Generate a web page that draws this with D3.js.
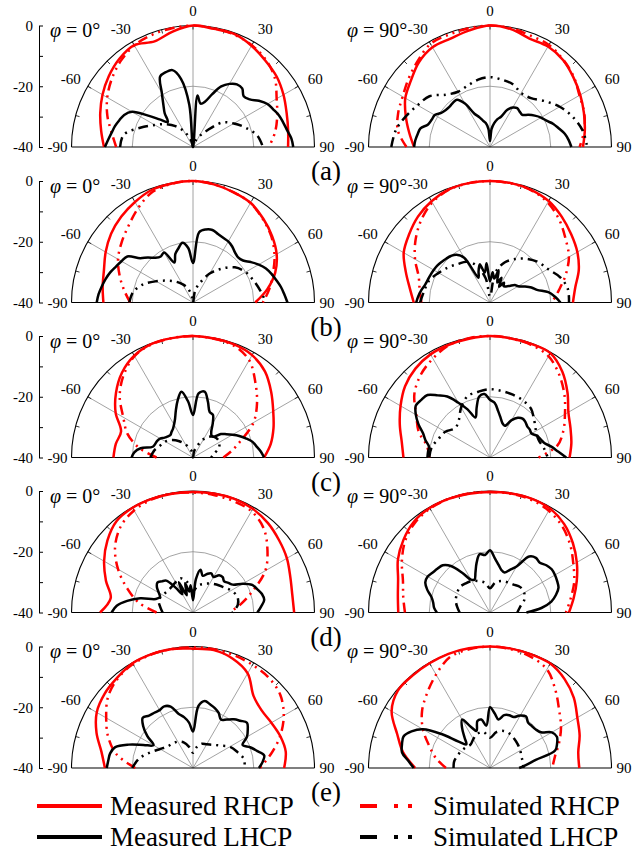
<!DOCTYPE html>
<html>
<head>
<meta charset="utf-8">
<script src="https://cdn.jsdelivr.net/npm/d3@7"></script>
<style>
  body { margin: 0; background: #fff; }
  svg text { font-family: "Liberation Serif", "Times New Roman", serif; fill: #000; }
</style>
</head>
<body>
<svg id="chart" width="643" height="852"></svg>
<script>
// sample angles (deg): smooth curves every 10, measured LHCP every 5
const ang10 = d3.range(-90, 91, 10);
const ang5 = d3.range(-90, 91, 5);

// (a)
const mR_a0 = [-10.7, -9.3, -7.5, -5.6, -3.8, -2.2, -1.3, -3.0, -1.4, 0, -0.5, -0.4, -1.5, -2.9, -4.0, -5.6, -7.2, -8.2, -8.7];
const sR_a0 = [-14.7, -12.8, -10.0, -7.4, -5.1, -3.0, -1.4, -0.7, -0.3, 0, -0.3, -0.6, -1.3, -2.6, -4.8, -8.2, -10.5, -12.6, -15];
const mL_a0 = [-11, -12, -12.8, -13.4, -14.2, -15, -16.8, -22, -26, -28.3, -25.5, -23, -19.5, -14.4, -13.8, -13.8, -17.2, -26, -40,
  -23, -25.5, -24.5, -21.5, -18, -16, -14.8, -14.8, -16.4, -15.6, -13.5, -11.7, -10.8, -9.8, -9.2, -8.5, -7.5, -7];
const sL_a0 = [-16, -16.8, -21.5, -25.5, -28.3, -31, -34, -37, -39, -40, -39, -38, -36, -33, -27.5, -24.5, -21.5, -18.5, -17];

const mR_a90 = [-15, -13, -10.5, -7.8, -6, -3.6, -2.1, -2, -1, 0, -0.6, -2.0, -1.8, -2.6, -4.2, -5.7, -7.1, -8.3, -9.4];
const sR_a90 = [-12.5, -9.2, -7.8, -6.8, -5, -3, -0.8, -0.6, -0.3, 0, -0.3, -1, -1.2, -2.5, -4, -6, -7, -8.5, -10.5];
const mL_a90 = [-15, -15.3, -15.8, -16.3, -18.3, -18.8, -19, -20.4, -21, -21.2, -21, -21, -23.5, -27.9, -29.5, -31, -32, -34, -38,
  -34, -32, -30.5, -29.4, -26.5, -25, -24.4, -24.8, -25, -23.5, -22, -20.6, -19.5, -17.8, -16.5, -15, -14, -13.2];
const sL_a90 = [-7.5, -8.5, -10.5, -12.5, -14, -17.5, -19, -18.5, -17.5, -17, -17.5, -18, -19.5, -19, -16.5, -13.5, -11, -9, -8];

// (b)
const mR_b0 = [-10.5, -9.8, -8.8, -6.8, -4.8, -3.2, -1.8, -0.5, -0.2, 0, -0.5, -1.3, -2.1, -4, -6, -8.2, -11.2, -15.2, -19.5];
const sR_b0 = [-19.3, -17, -14.3, -11.5, -9.3, -7, -4, -1.2, -0.3, 0, -0.5, -1.3, -2.2, -4.2, -6.3, -9, -12, -14.5, -17];
const mL_b0 = [-8.3, -8.8, -9.5, -10.2, -11, -12, -12.8, -13.6, -17.3, -19, -20.8, -21.5, -21, -25.5, -23, -21.5, -20, -22, -27,
  -16.8, -15.6, -15.3, -16, -16.5, -16.8, -17.5, -18.5, -19, -18.5, -16.8, -15, -13.5, -12.5, -11.6, -10.6, -9.8, -8.9];
const sL_b0 = [-19, -20, -22.5, -26, -28.8, -31, -33, -35, -38, -40, -36, -33, -29, -25.5, -22, -20, -18.8, -17.5, -16];

const mR_b90 = [-14.9, -13.2, -10.5, -7.2, -5.2, -3.1, -1.5, -0.4, -0.1, 0, -0.1, -0.5, -1.4, -3.2, -5.1, -6.8, -8.9, -11.5, -12.7];
const sR_b90 = [-17.4, -16.5, -15, -11.5, -8, -4.7, -2, -0.5, -0.1, 0, -0.2, -0.6, -2, -4.5, -7.5, -10, -13.5, -17, -19.6];
const mL_b90 = [-15.7, -16.3, -17, -17.8, -18.2, -18.4, -18.6, -18.8, -19.2, -19.6, -20, -20.8, -23, -31, -29, -27, -30, -27, -33,
  -30, -32, -29, -33, -31, -34, -32, -33, -32.5, -31.5, -30, -29.3, -27.5, -25.5, -24, -20.5, -18.5, -16.8];
const sL_b90 = [-17, -18, -18.7, -20.5, -22, -23.5, -24.5, -27, -32, -38, -30, -26, -23.5, -21.2, -19.3, -18, -15.5, -14, -14];

// (c)
const mR_c0 = [-13.8, -14.2, -14.8, -10.6, -6.9, -3.6, -1.3, -0.2, -0.1, 0, -0.2, -0.4, -1.1, -3.1, -6.4, -9.5, -11.8, -14, -16.6];
const sR_c0 = [-28, -22, -17, -13.5, -8.5, -4.5, -1.5, -0.3, -0.1, 0, -0.3, -0.8, -3, -8, -12.5, -17, -23, -27, -30];
const mL_c0 = [-19.8, -20.6, -22.5, -26.3, -26.8, -27, -27.5, -28.6, -29.2, -29.5, -29, -28.5, -27.5, -26, -23.5, -20.5, -18, -21.5, -26,
  -18.8, -18, -21, -24, -24.5, -27, -29.5, -30.5, -30.3, -28, -26.6, -25, -23.2, -21.5, -19.8, -18.8, -17.6, -16.6];
const sL_c0 = [-26, -27, -28.5, -29.5, -31, -33, -35, -37, -38, -40, -38, -36, -33, -31, -30, -30, -31, -33, -34];

const mR_c90 = [-11.5, -10.5, -8.4, -6, -3.5, -1.8, -0.8, -0.5, -0.3, 0, -0.2, -0.2, -0.3, -3, -6.7, -10.2, -11.8, -12.8, -13.8];
const sR_c90 = [-20, -19, -15, -12, -7.5, -4.5, -2.4, -0.6, -0.1, 0, -0.2, -0.5, -1.5, -4.5, -8, -11.5, -14.3, -17.5, -24];
const mL_c90 = [-19.4, -19.5, -19.6, -18, -16.5, -14, -11.8, -10.2, -10.5, -10.9, -13.3, -15.5, -19.2, -22.5, -26, -23, -19.6, -19, -21,
  -22, -24.5, -26.5, -28, -28.5, -25.8, -24, -23.3, -23.5, -24, -24, -24.2, -23, -22.3, -21.5, -19.5, -17.5, -14.9];
const sL_c90 = [-20, -20.5, -22, -23, -25, -24, -21, -18.5, -18, -17.5, -17.8, -18, -18.3, -19, -21, -22.5, -23, -22, -21];

// (d)
const mR_d0 = [-9.4, -12.5, -9.5, -6.2, -3.2, -0.8, -0.2, -0.2, -0.3, -0.3, -0.2, -0.2, -0.6, -1.6, -3, -4.3, -5.9, -6.8, -6.7];
const sR_d0 = [-28, -22, -17, -11.5, -6.5, -3, -1.2, -0.4, -0.2, -0.5, -0.7, -1, -1.5, -3.8, -8, -12.5, -19, -24, -28];
const mL_d0 = [-13.2, -14.8, -18, -22, -27, -28, -27, -25.5, -24.7, -25.5, -26.3, -30, -33, -29, -34, -30, -33, -31, -36,
  -29, -25.7, -27.5, -26.5, -25.8, -26.5, -25, -24.8, -25.5, -24.8, -24, -21, -18.5, -17.5, -16.5, -16.2, -17.5, -18.8];
const sL_d0 = [-30, -29, -28, -28.5, -29, -29, -28.5, -28, -30, -33, -31, -30, -29, -28, -27, -25.5, -24.5, -25, -27];

const mR_d90 = [-9.8, -9.2, -7.8, -5, -2.8, -1, -0.3, -0.2, -0.3, -0.3, -0.2, -0.1, -0.5, -2, -4.4, -7, -9.6, -12, -14];
const sR_d90 = [-12, -11, -9.5, -6.5, -3.5, -1.5, -0.5, -0.2, -0.2, -0.3, -0.3, -0.5, -1.3, -3, -5.5, -8.3, -10.5, -13, -15];
const mL_d90 = [-22.5, -21.5, -21, -20, -18, -16.5, -16.3, -17, -17.5, -18, -20, -24, -27.5, -28, -26, -23, -20.5, -21, -19.5,
  -22, -24, -25.5, -26, -24.5, -22.5, -17.5, -16.5, -16.8, -15.8, -15.2, -15.3, -15.6, -16, -17.5, -19.5, -23, -28];
const sL_d90 = [-30, -29, -28, -27.5, -27, -27.5, -28, -29, -30, -32, -30, -29, -28.5, -28, -27, -27, -28, -30, -31];

// (e)
const mR_e0 = [-11, -9.4, -6.2, -3.4, -2, -1.2, -0.2, -0.1, -0.2, -0.7, -0.6, -1.7, -4, -9, -10.5, -10.2, -9.4, -9, -10];
const sR_e0 = [-21, -14.5, -10.3, -7, -3.5, -1.5, -0.5, -0.2, -0.2, -0.3, -0.3, -0.5, -0.8, -1.2, -2.5, -5.5, -9.5, -14, -18];
const mL_e0 = [-11.6, -12, -12.3, -13.5, -17.5, -22, -25, -21.6, -18.6, -16.6, -17.5, -17.8, -18, -17.6, -18.5, -21.5, -23, -25, -28,
  -19.5, -17.6, -18.3, -19, -20, -21.6, -20.5, -19.1, -18, -16.8, -18, -19.5, -22, -20, -18.2, -16.2, -17, -18.3];
const sL_e0 = [-20, -22, -25, -27.5, -29, -29.5, -30, -31, -33, -35, -33, -31.5, -31, -30, -28.5, -26, -24.5, -23, -23];

const mR_e90 = [-15.4, -11, -7.5, -2.6, -0.4, -0.3, -0.2, 0, 0, 0, -0.1, -0.2, -0.3, -1.8, -4, -6.8, -8.6, -10.5, -10.6];
const sR_e90 = [-25.5, -22, -18.7, -14.5, -10.8, -7.8, -4.5, -1.2, -0.3, 0, -0.3, -1, -2.5, -6.5, -10.3, -13, -15.8, -18.3, -19.5];
const mL_e90 = [-14.9, -13, -10.6, -10, -9.7, -11.5, -14.5, -20.5, -26.5, -29, -27, -24, -21.6, -25, -27, -24, -23.8, -26, -20,
  -22, -23.8, -22, -21.5, -21.5, -20, -19.3, -20.5, -20.5, -20.3, -19.5, -16.5, -15.7, -16.5, -17.8, -24.7, -28, -30.4];
const sL_e90 = [-28, -28, -28.5, -29, -29.5, -30, -29, -28, -28, -30, -28, -27, -27, -27.5, -28, -28.5, -29, -29, -29];

const rowLabels = ["(a)", "(b)", "(c)", "(d)", "(e)"];
const phiLabels = ["0°", "90°"];
const spokeAngles = [-60, -30, 0, 30, 60];
const angleLabels = [-60, -30, 0, 30, 60];
const radialTicks = [-40, -30, -20, -10, 0];
const legendNames = ["Measured RHCP", "Simulated RHCP", "Measured LHCP", "Simulated LHCP"];

const panels = [
  [[mR_a0, sR_a0, mL_a0, sL_a0], [mR_a90, sR_a90, mL_a90, sL_a90]],
  [[mR_b0, sR_b0, mL_b0, sL_b0], [mR_b90, sR_b90, mL_b90, sL_b90]],
  [[mR_c0, sR_c0, mL_c0, sL_c0], [mR_c90, sR_c90, mL_c90, sL_c90]],
  [[mR_d0, sR_d0, mL_d0, sL_d0], [mR_d90, sR_d90, mL_d90, sL_d90]],
  [[mR_e0, sR_e0, mL_e0, sL_e0], [mR_e90, sR_e90, mL_e90, sL_e90]]
];

// layout
const rowY = [147, 302.5, 457.5, 612.5, 768];
const colX = [193, 490];
const R = 121.5;
const RED = "#ff0000";
const DASH = "10,5,2,5,2,5";
const GRID = "#8c8c8c";

const svg = d3.select("#chart");
svg.append("rect").attr("width", 643).attr("height", 852).attr("fill", "#fff");

const r = d3.scaleLinear().domain([-40, 0]).range([0, R]).clamp(true);
const rad = (d) => (d * Math.PI) / 180;
const polar = (a, rr) => [rr * Math.sin(rad(a)), -rr * Math.cos(rad(a))];

const line = d3
  .lineRadial()
  .angle((d) => rad(d[0]))
  .radius((d) => r(d[1]))
  .curve(d3.curveCatmullRom.alpha(0.5));

const halfCircle = (rr) => {
  const p = d3.path();
  p.moveTo(-rr, 0);
  p.arc(0, 0, rr, Math.PI, 2 * Math.PI);
  return p.toString();
};

// curve styles, in draw order: sim RHCP, meas RHCP, sim LHCP, meas LHCP
const series = [
  { idx: 1, angles: ang10, color: RED, dash: DASH },
  { idx: 0, angles: ang10, color: RED, dash: null },
  { idx: 3, angles: ang10, color: "#000", dash: DASH },
  { idx: 2, angles: ang5, color: "#000", dash: null }
];

panels.forEach((row, ri) => {
  row.forEach((data, ci) => {
    const cx = colX[ci];
    const cy = rowY[ri];
    const g = svg.append("g").attr("transform", `translate(${cx},${cy})`);

    // grid
    g.append("path")
      .attr("d", halfCircle(r(-20)))
      .attr("fill", "none")
      .attr("stroke", GRID)
      .attr("stroke-width", 0.8);
    g.selectAll(".spoke")
      .data(spokeAngles)
      .enter()
      .append("line")
      .attr("x1", 0)
      .attr("y1", 0)
      .attr("x2", (a) => polar(a, R)[0])
      .attr("y2", (a) => polar(a, R)[1])
      .attr("stroke", GRID)
      .attr("stroke-width", 0.8);

    // outer frame
    g.append("path")
      .attr("d", halfCircle(R))
      .attr("fill", "none")
      .attr("stroke", "#000")
      .attr("stroke-width", 1.1);
    g.append("line")
      .attr("x1", -R)
      .attr("x2", R)
      .attr("y1", 0)
      .attr("y2", 0)
      .attr("stroke", "#000")
      .attr("stroke-width", 1.1);
    g.selectAll(".otick")
      .data(d3.range(-75, 76, 15))
      .enter()
      .append("line")
      .attr("x1", (a) => polar(a, R)[0])
      .attr("y1", (a) => polar(a, R)[1])
      .attr("x2", (a) => polar(a, R - 4)[0])
      .attr("y2", (a) => polar(a, R - 4)[1])
      .attr("stroke", "#000")
      .attr("stroke-width", 0.8);

    // curves
    series.forEach((s) => {
      const vals = data[s.idx];
      const pts = s.angles.map((a, i) => [a, vals[i]]);
      g.append("path")
        .attr("d", line(pts))
        .attr("fill", "none")
        .attr("stroke", s.color)
        .attr("stroke-width", 2.5)
        .attr("stroke-linejoin", "round")
        .attr("stroke-dasharray", s.dash);
    });

    // angle labels
    g.selectAll(".alab")
      .data(angleLabels)
      .enter()
      .append("text")
      .attr("x", (a) => polar(a, R + 15)[0] + Math.sign(a) * 4)
      .attr("y", (a) => polar(a, R + 15)[1] + 5)
      .attr("text-anchor", "middle")
      .attr("font-size", 15)
      .text((a) => String(a));
    g.append("text")
      .attr("x", -R - 4)
      .attr("y", 5)
      .attr("text-anchor", "end")
      .attr("font-size", 15)
      .text("-90");
    g.append("text")
      .attr("x", R + 5)
      .attr("y", 5)
      .attr("text-anchor", "start")
      .attr("font-size", 15)
      .text("90");

    // phi label
    const phi = g.append("text")
      .attr("x", ci === 0 ? 50 - cx : 347 - cx)
      .attr("y", -110)
      .attr("font-size", 20);
    phi.append("tspan").attr("font-style", "italic").text("φ");
    phi.append("tspan").text(" = " + phiLabels[ci]);

    // radial axis on left panels
    if (ci === 0) {
      const y = d3.scaleLinear().domain([-40, 0]).range([cy, cy - R]);
      const ax = svg.append("g")
        .attr("transform", "translate(39,0)")
        .call(
          d3.axisLeft(y)
            .tickValues(radialTicks)
            .tickFormat((d) => (d % 20 === 0 ? String(d) : ""))
            .tickSizeInner(-4)
            .tickSizeOuter(0)
            .tickPadding(6)
        );
      ax.selectAll("text")
        .attr("font-size", 15)
        .attr("font-family", '"Liberation Serif", serif');
      ax.selectAll("path, line").attr("stroke", "#000");
    }
  });

  svg.append("text")
    .attr("x", 326)
    .attr("y", rowY[ri] + 33)
    .attr("text-anchor", "middle")
    .attr("font-size", 27)
    .text(rowLabels[ri]);
});

// legend
const legendPos = [
  { x: 37, y: 806 },
  { x: 360, y: 806 },
  { x: 37, y: 837 },
  { x: 360, y: 837 }
];
const legendStyle = [
  { color: RED, dash: null },
  { color: RED, dash: "17,17,4,10,4,30" },
  { color: "#000", dash: null },
  { color: "#000", dash: "17,17,4,10,4,30" }
];
legendNames.forEach((name, i) => {
  const p = legendPos[i];
  const st = legendStyle[i];
  const w = i % 2 === 0 ? 65 : 52;
  svg.append("line")
    .attr("x1", p.x)
    .attr("x2", p.x + w)
    .attr("y1", p.y)
    .attr("y2", p.y)
    .attr("stroke", st.color)
    .attr("stroke-width", 4)
    .attr("stroke-dasharray", st.dash);
  svg.append("text")
    .attr("x", p.x + 73)
    .attr("y", p.y + 9)
    .attr("font-size", 27)
    .text(name);
});
</script>
</body>
</html>
